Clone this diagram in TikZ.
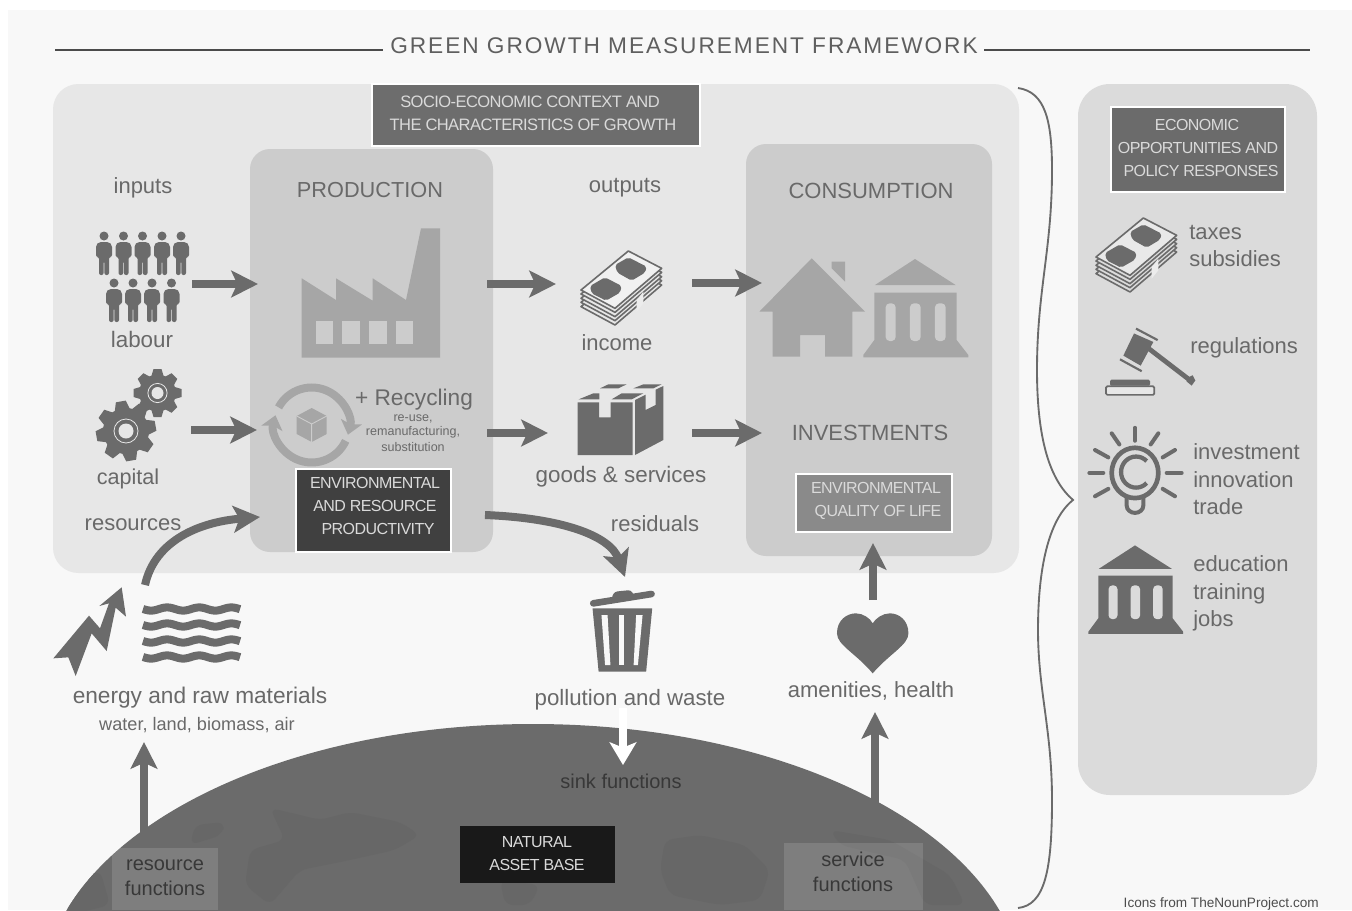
\documentclass[tikz,border=0pt]{standalone}
\usepackage{fontspec}
\setmainfont{Liberation Sans}
\newfontfamily\spacedfont[LetterSpace=8.6]{Liberation Sans}
\newfontfamily\tightfont[LetterSpace=-3.5]{Liberation Sans}
\usetikzlibrary{arrows.meta}
\definecolor{pagebg}{HTML}{F8F8F8}
\definecolor{panelA}{HTML}{E7E7E7}
\definecolor{panelB}{HTML}{CCCCCC}
\definecolor{panelC}{HTML}{DBDBDB}
\definecolor{icond}{HTML}{6B6B6B}
\definecolor{iconl}{HTML}{A6A6A6}
\definecolor{txt}{HTML}{696969}
\definecolor{boxtxt}{HTML}{DADADA}
\definecolor{earth}{HTML}{6B6B6B}
\definecolor{land}{HTML}{676767}
\newcommand{\fs}[2]{\fontsize{#1}{#2}\selectfont}
\tikzset{
  lbl/.style={anchor=base,inner sep=0pt,text=txt},
  lblw/.style={anchor=base west,inner sep=0pt,text=txt},
  boxt/.style={anchor=base,inner sep=0pt,text=boxtxt,font=\tightfont},
  darkt/.style={anchor=base,inner sep=0pt,text=black!78},
  hdr/.style={draw=white,line width=2.2pt},
  fat/.style={line width=6pt,draw=icond,-{Stealth[length=20pt,width=20pt,inset=4.5pt]}},
  recyc/.style={line width=6pt,draw=iconl,-{Stealth[length=10pt,width=16pt,inset=2pt]}},
  fatw/.style={line width=6.5pt,draw=white,-{Stealth[length=17pt,width=20pt,inset=4pt]}},
}
\newcommand{\personicon}[2]{%
  \begin{scope}[shift={(#1,#2)}]
    \fill[icond] (0,0) circle (4.5);
    \fill[icond,rounded corners=1.5pt] (-5,6)--(5,6)--(8,9)--(8,21)--(5,21)--(5,39)--(0.4,39)--(0.4,25)--(-0.4,25)--(-0.4,39)--(-5,39)--(-5,21)--(-8,21)--(-8,9)--cycle;
  \end{scope}}
\newcommand{\gearicon}[4]{%
  \begin{scope}[shift={(#1,#2)},scale=#3]
    \fill[icond] (0,0) circle (23);
    \foreach \a in {0,45,...,315}{
      \fill[icond,rotate=\a+#4] (20,-8)--(30,-5)--(30,5)--(20,8)--cycle;
    }
    \fill[panelA] (0,0) circle (7.5);
    \draw[panelA,line width=.6pt] (0,0) circle (12);
  \end{scope}}
\newcommand{\moneyicon}[1]{%
  \foreach \o in {50,37,25,12}{
    \draw[icond,fill=#1,line width=1.2pt,line join=round,yshift=-\o*.25pt] (145,3)--(245,55)--(105,175)--(3,120)--cycle;
  }
  \draw[icond,fill=#1!60!white,line width=1.2pt,line join=round] (145,3)--(245,55)--(105,175)--(3,120)--cycle;
  \fill[icond,rounded corners=1.5pt] (105,45)--(145,22)--(200,50)--(195,68)--(155,92)--(112,68)--cycle;
  \fill[icond,rounded corners=1.5pt] (30,108)--(75,82)--(125,108)--(120,128)--(78,152)--(35,130)--cycle;
  \fill[white!85!gray] (170,150)--(190,125)--(190,160)--(170,185)--cycle;
}
\newcommand{\bankicon}[2]{%
  \fill[#1] (155,0)--(277,78)--(35,78)--cycle;
  \fill[#1] (33,101)--(280,101)--(280,243)--(315,288)--(315,295)--(0,295)--(0,288)--(33,243)--cycle;
  \fill[#2,rounded corners=3pt] (67,246)--(67,133)--(97,133)--(97,246)--cycle;
  \fill[#2,rounded corners=3pt] (140,246)--(140,133)--(172,133)--(172,246)--cycle;
  \fill[#2,rounded corners=3pt] (215,246)--(215,133)--(247,133)--(247,246)--cycle;
}
\begin{document}
\begin{tikzpicture}[x=0.75pt,y=-0.75pt]
\useasboundingbox (0,0) rectangle (1352,910);
\fill[white] (0,0) rectangle (1352,910);
\fill[pagebg] (8,10) rectangle (1352,910);

% title
\node[inner sep=0pt,anchor=base,text=txt!90!black] (title) at (684,53) {\spacedfont\fs{17}{20}GREEN GROWTH MEASUREMENT FRAMEWORK};
\coordinate (tl) at (55,50);
\coordinate (tr) at (1310,50);
\draw[icond!70!black,line width=1.1pt] (tl) -- (383,50);
\draw[icond!70!black,line width=1.1pt] (984,50) -- (tr);

% panels
\fill[panelA,rounded corners=19pt] (53,84) rectangle (1019,573);
\fill[panelB,rounded corners=15pt] (250,149) rectangle (493,552);
\fill[panelB,rounded corners=15pt] (746,144) rectangle (992,556);
\fill[panelC,rounded corners=24pt] (1078,84) rectangle (1317,795);

% brace
\draw[icond,line width=1.4pt] (1018,88) .. controls (1045,92) and (1052,120) .. (1052,170) .. controls (1052,250) and (1037,290) .. (1037,370) .. controls (1037,440) and (1050,480) .. (1073,500) .. controls (1048,520) and (1038,570) .. (1038,630) .. controls (1038,690) and (1052,730) .. (1052,800) .. controls (1052,870) and (1045,905) .. (1018,908);

% earth
\begin{scope}
  \clip (0,0) rectangle (1352,910);
  \fill[earth] (533,993) ellipse [x radius=490,y radius=269];
  \begin{scope}
    \clip (533,993) ellipse [x radius=490,y radius=269];
    \fill[land,rounded corners=6pt] (270,808)--(300,815)--(320,820)--(350,812)--(400,822)--(420,835)--(395,850)--(350,860)--(300,870)--(270,905)--(245,885)--(250,850)--(285,840)--cycle;
    \fill[land,rounded corners=6pt] (195,825)--(225,822)--(222,835)--(190,845)--cycle;
    \fill[land,rounded corners=6pt] (665,840)--(700,835)--(745,845)--(770,870)--(760,900)--(720,905)--(670,895)--(660,870)--cycle;
    \fill[land,rounded corners=6pt] (830,830)--(890,840)--(950,875)--(965,905)--(925,905)--(905,860)--(840,845)--cycle;
    \fill[land,rounded corners=6pt] (60,890)--(100,870)--(110,905)--(70,915)--cycle;
    \fill[land,rounded corners=6pt] (500,880)--(540,885)--(530,905)--(505,905)--cycle;
  \end{scope}
  \fill[white,opacity=.13] (112,848) rectangle (218,910);
  \fill[white,opacity=.13] (784,843) rectangle (923,910);
\end{scope}

% header boxes
\filldraw[hdr,fill=icond!90!gray] (372,84) rectangle (700,146);
\node[boxt] (socioa) at (530,107) {\fs{12.4}{15}SOCIO-ECONOMIC CONTEXT AND};
\node[boxt] (sociob) at (533,130) {\fs{12.4}{15}THE CHARACTERISTICS OF GROWTH};
\filldraw[hdr,fill=black!75] (296,469) rectangle (451,552);
\node[boxt] (enva) at (375,488) {\fs{12}{15}ENVIRONMENTAL};
\node[boxt] (envb) at (375,511) {\fs{12}{15}AND RESOURCE};
\node[boxt] (envc) at (378,534) {\fs{12}{15}PRODUCTIVITY};
\filldraw[hdr,fill=black!46] (796,474) rectangle (952,532);
\node[boxt] (qola) at (876,493) {\fs{12}{15}ENVIRONMENTAL};
\node[boxt] (qolb) at (878,516) {\fs{12}{15}QUALITY OF LIFE};
\filldraw[hdr,fill=icond] (1111,107) rectangle (1285,192);
\node[boxt] (ecoa) at (1197,130) {\fs{12}{15}ECONOMIC};
\node[boxt] (ecob) at (1198,153) {\fs{12}{15}OPPORTUNITIES AND};
\node[boxt] (ecoc) at (1201,176) {\fs{12}{15}POLICY RESPONSES};
\fill[black!90] (460,826) rectangle (615,883);
\node[boxt] (nata) at (537,847) {\fs{12}{15}NATURAL};
\node[boxt] (natb) at (537,870) {\fs{12}{15}ASSET BASE};

% labels
\node[lbl] (inputs) at (143,193) {\fs{16.5}{19}inputs};
\node[lbl] (production) at (370,197) {\fs{16.3}{19}PRODUCTION};
\node[lbl] (outputs) at (625,192) {\fs{16.5}{19}outputs};
\node[lbl] (consumption) at (871,198) {\fs{16.5}{19}CONSUMPTION};
\node[lbl] (labour) at (142,347) {\fs{16.8}{19}labour};
\node[lbl] (capital) at (128,484) {\fs{16.2}{19}capital};
\node[lbl] (resources) at (133,530) {\fs{16.5}{19}resources};
\node[lbl] (income) at (617,350) {\fs{16.5}{19}income};
\node[lbl] (goods) at (621,482) {\fs{16.8}{19}goods \& services};
\node[lbl] (residuals) at (655,531) {\fs{16.5}{19}residuals};
\node[lbl] (investments) at (870,440) {\fs{16.5}{19}INVESTMENTS};
\node[lbl] (recycling) at (414,405) {\fs{17}{19}+ Recycling};
\node[lbl] (rea) at (413,421) {\fs{9.4}{10}re-use,};
\node[lbl] (reb) at (413,435) {\fs{9.4}{10}remanufacturing,};
\node[lbl] (rec) at (413,451) {\fs{9.4}{10}substitution};
\node[lbl] (energy) at (200,703) {\fs{17}{19}energy and raw materials};
\node[lbl] (water) at (197,730) {\fs{13.6}{15}water, land, biomass, air};
\node[lbl] (pollution) at (630,705) {\fs{16.7}{19}pollution and waste};
\node[lbl] (amenities) at (871,697) {\fs{16.5}{19}amenities, health};
\node[darkt] (sink) at (621,788) {\fs{15}{17}sink functions};
\node[darkt] (resa) at (165,870) {\fs{15}{17}resource};
\node[darkt] (resb) at (165,895) {\fs{15}{17}functions};
\node[darkt] (sera) at (853,866) {\fs{15}{17}service};
\node[darkt] (serb) at (853,891) {\fs{15}{17}functions};
\node[lblw] (taxes) at (1189,239) {\fs{16.5}{19}taxes};
\node[lblw] (subsidies) at (1189,266) {\fs{16.5}{19}subsidies};
\node[lblw] (regulations) at (1190,353) {\fs{16.5}{19}regulations};
\node[lblw] (investment) at (1193,459) {\fs{16.5}{19}investment};
\node[lblw] (innovation) at (1193,487) {\fs{16.5}{19}innovation};
\node[lblw] (trade) at (1193,514) {\fs{16.5}{19}trade};
\node[lblw] (education) at (1193,571) {\fs{16.5}{19}education};
\node[lblw] (training) at (1193,599) {\fs{16.5}{19}training};
\node[lblw] (jobs) at (1193,626) {\fs{16.5}{19}jobs};
\node[anchor=base east,inner sep=0pt,text=black!70] (credit) at (1319,907) {\fs{10.2}{11}Icons from TheNounProject.com};

% people
\foreach \x in {104,123.5,142.5,162,181}{\personicon{\x}{236}}
\foreach \x in {114,133,152,171.5}{\personicon{\x}{283}}

% gears
\gearicon{126}{431}{1}{10}
\gearicon{157.5}{393}{.8}{0}

% factory
\fill[iconl] (301.7,278.3)--(336,300)--(336,278.3)--(372.7,300.7)--(372.7,278.3)--(406,300)--(421,228.3)--(440,228.3)--(440,357.7)--(301.7,357.7)--cycle;
\foreach \x in {315.7,342.3,369,395.7}{
  \fill[panelB] (\x,320.7) rectangle +(17.5,23.3);
}

% recycling
\draw[recyc] (311.7,425) ++(-152:37.5) arc[start angle=-152,end angle=15,radius=37.5];
\draw[recyc] (311.7,425) ++(25:37.5) arc[start angle=25,end angle=195,radius=37.5];
\begin{scope}[shift={(311.7,425)}]
  \fill[iconl] (0,-17)--(15,-9)--(15,9)--(0,17)--(-15,9)--(-15,-9)--cycle;
  \draw[panelB,line width=.7pt] (-15,-9)--(0,-1)--(15,-9) (0,-1)--(0,17);
\end{scope}

% money icons
\begin{scope}[shift={(580,250)},x=.25pt,y=-.25pt]
  \moneyicon{panelA}
\end{scope}
\begin{scope}[shift={(1095,217)},x=.25pt,y=-.25pt]
  \moneyicon{panelC}
\end{scope}

% box icon
\begin{scope}[shift={(480,150)},x=.25pt,y=-.25pt]
  \fill[icond] (293,757)--(357,757)--(357,802)--(392,802)--(392,757)--(458,757)--(458,915)--(293,915)--cycle;
  \fill[icond] (465,750)--(497,734)--(497,780)--(527,765)--(527,719)--(550,708)--(550,870)--(465,915)--cycle;
  \fill[icond] (296,748)--(340,730)--(358,730)--(358,748)--cycle;
  \fill[icond] (395,748)--(425,730)--(490,730)--(455,748)--cycle;
  \fill[icond] (360,715)--(385,703)--(440,703)--(415,715)--cycle;
  \fill[icond] (460,715)--(490,703)--(545,703)--(520,715)--cycle;
\end{scope}

% house and bank
\begin{scope}[shift={(480,150)},x=.25pt,y=-.25pt]
  \fill[iconl] (1055,335)--(1095,335)--(1095,395)--(1055,355)--cycle;
  \fill[iconl] (995,325)--(1155,485)--(1117,485)--(1117,620)--(1035,620)--(1035,555)--(960,555)--(960,620)--(878,620)--(878,485)--(838,485)--cycle;
\end{scope}
\begin{scope}[shift={(863.3,259)},x=.25pt,y=-.25pt]
  \bankicon{iconl}{panelB}
\end{scope}
\begin{scope}[shift={(1088.3,545.4)},x=.226pt,y=-.225pt]
  \bankicon{icond}{panelC}
\end{scope}

% gavel and bulb
\begin{scope}[shift={(1010,80)},x=.25pt,y=-.2775pt]
  \draw[icond,line width=3.6pt] (415,725)--(535,808);
  \fill[icond] (532,805)--(548,798)--(556,812)--(545,826)--(530,815)--cycle;
  \fill[icond] (372,685)--(430,708)--(392,772)--(340,745)--cycle;
  \draw[icond,line width=1.6pt] (378,672)--(443,703);
  \draw[icond,line width=1.6pt] (330,755)--(395,787);
  \fill[icond,rounded corners=1pt] (300,810) rectangle (420,826);
  \draw[icond,line width=1.3pt,rounded corners=1pt,fill=panelA] (288,828) rectangle (433,851);
  % bulb
  \draw[icond,line width=3.5pt] (375,1062) ellipse [x radius=70,y radius=68];
  \draw[icond,line width=3.2pt] (410,1030) arc[start angle=-45,end angle=-315,x radius=45,y radius=42];
  \draw[icond,line width=3pt,line cap=round] (350,1130)--(350,1150) arc[start angle=180,end angle=0,x radius=25,y radius=20]--(400,1130);
  \foreach \xa/\ya/\xb/\yb in {375/940/375/975, 305/955/328/985, 445/955/422/985, 255/1000/295/1020, 495/1000/458/1020, 238/1062/280/1062, 515/1062/470/1062, 255/1125/295/1105, 495/1125/458/1105}{
    \draw[icond,line width=3pt,line cap=round] (\xa,\ya)--(\xb,\yb);
  }
\end{scope}

% energy bolt and waves
\begin{scope}[shift={(40,570)},x=.25pt,y=-.25pt]
  \fill[icond] (40,265)--(147,137)--(180,175)--(207,100)--(178,108)--(245,52)--(258,140)--(227,113)--(200,243)--(155,190)--(107,318)--(85,262)--cycle;
\end{scope}
\foreach \yy in {609,625,641,657}{
  \draw[icond,line width=6pt] plot[domain=143:240,samples=60,smooth] (\x,{\yy+1.6*sin((\x-143)*11.2)});
}

% trash and heart
\begin{scope}[shift={(520,570)},x=.268pt,y=-.25pt]
  \fill[icond] (203,115)--(370,115)--(353,305)--(220,305)--cycle;
  \fill[pagebg] (228,135)--(245,135)--(253,285)--(238,285)--cycle;
  \fill[pagebg] (278,135)--(292,135)--(292,285)--(278,285)--cycle;
  \fill[pagebg] (325,135)--(343,135)--(330,285)--(318,285)--cycle;
  \draw[icond,line width=5pt,line cap=round] (205,100)--(368,72);
  \fill[icond,rounded corners=2pt] (255,85)--(265,65)--(310,60)--(320,78)--cycle;
  \fill[icond] (987,310) .. controls (940,250) and (887,225) .. (887,190) .. controls (887,150) and (915,130) .. (940,130) .. controls (960,130) and (980,145) .. (987,160) .. controls (995,145) and (1015,130) .. (1035,130) .. controls (1060,130) and (1087,150) .. (1087,190) .. controls (1087,225) and (1035,250) .. (987,310) -- cycle;
\end{scope}

% connector ends
\coordinate (a1) at (192,284);   \coordinate (a2) at (258,284);
\coordinate (b1) at (191,430);   \coordinate (b2) at (257,430);
\coordinate (c1) at (487,284);   \coordinate (c2) at (556,284);
\coordinate (d1) at (692,283);   \coordinate (d2) at (762,283);
\coordinate (e1) at (487,433);   \coordinate (e2) at (548,433);
\coordinate (f1) at (692,433);   \coordinate (f2) at (762,433);
\coordinate (g1) at (145,585);   \coordinate (g2) at (260,517);
\coordinate (h1) at (485,515);   \coordinate (h2) at (625,577);
\coordinate (i1) at (873,600);   \coordinate (i2) at (873,543);
\coordinate (j1) at (875,805);   \coordinate (j2) at (875,712);
\coordinate (k1) at (144,835);   \coordinate (k2) at (144,742);
\coordinate (l1) at (623,708);   \coordinate (l2) at (623,765);

\draw[fat] (a1) -- (a2);
\draw[fat] (b1) -- (b2);
\draw[fat] (c1) -- (c2);
\draw[fat] (d1) -- (d2);
\draw[fat] (e1) -- (e2);
\draw[fat] (f1) -- (f2);
\draw[fat] (g1) .. controls (155,540) and (200,522) .. (g2);
\draw[fat] (h1) .. controls (560,518) and (610,535) .. (h2);
\draw[fat] (i1) -- (i2);
\draw[fat] (j1) -- (j2);
\draw[fat] (k1) -- (k2);
\draw[fatw] (l1) -- (l2);
\end{tikzpicture}
\end{document}
